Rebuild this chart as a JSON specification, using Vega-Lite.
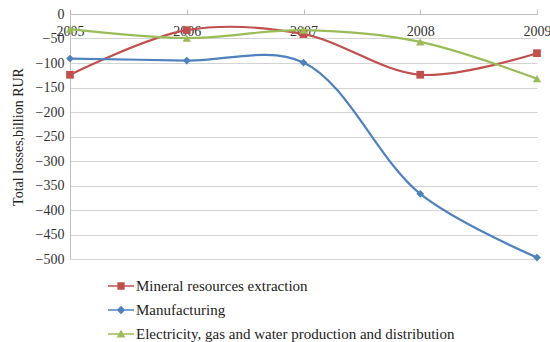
{
  "$schema": "https://vega.github.io/schema/vega-lite/v6.json",
  "width": 467,
  "height": 245,
  "autosize": {"type": "none"},
  "padding": {"left": 70, "top": 14, "right": 13, "bottom": 83},
  "background": "white",
  "config": {
    "view": {"stroke": null},
    "font": "Liberation Serif"
  },
  "data": {
    "values": [
      {"year": "2005", "series": "Mineral resources extraction", "value": -124},
      {"year": "2006", "series": "Mineral resources extraction", "value": -33},
      {"year": "2007", "series": "Mineral resources extraction", "value": -41},
      {"year": "2008", "series": "Mineral resources extraction", "value": -124},
      {"year": "2009", "series": "Mineral resources extraction", "value": -80},
      {"year": "2005", "series": "Manufacturing", "value": -91},
      {"year": "2006", "series": "Manufacturing", "value": -95},
      {"year": "2007", "series": "Manufacturing", "value": -99},
      {"year": "2008", "series": "Manufacturing", "value": -367},
      {"year": "2009", "series": "Manufacturing", "value": -497},
      {"year": "2005", "series": "Electricity, gas and water production and distribution", "value": -31},
      {"year": "2006", "series": "Electricity, gas and water production and distribution", "value": -49},
      {"year": "2007", "series": "Electricity, gas and water production and distribution", "value": -33},
      {"year": "2008", "series": "Electricity, gas and water production and distribution", "value": -57},
      {"year": "2009", "series": "Electricity, gas and water production and distribution", "value": -132}
    ]
  },
  "encoding": {
    "x": {
      "field": "year",
      "type": "ordinal",
      "scale": {"type": "point", "padding": 0},
      "axis": {
        "orient": "top",
        "title": null,
        "labelAngle": 0,
        "labelFont": "Liberation Serif",
        "labelFontSize": 14,
        "labelColor": "#333333",
        "labelPadding": -29,
        "tickSize": 5,
        "tickColor": "#bfbfbf",
        "domainColor": "#bfbfbf",
        "grid": false,
        "labelOverlap": false
      }
    },
    "y": {
      "field": "value",
      "type": "quantitative",
      "scale": {"domain": [-500, 0], "nice": false},
      "axis": {
        "values": [0, -50, -100, -150, -200, -250, -300, -350, -400, -450, -500],
        "title": "Total losses,billion RUR",
        "titleFont": "Liberation Serif",
        "titleFontSize": 14,
        "titleFontWeight": "normal",
        "titleColor": "#222222",
        "titlePadding": 10,
        "labelFont": "Liberation Serif",
        "labelFontSize": 14,
        "labelColor": "#333333",
        "labelPadding": 6,
        "ticks": false,
        "domainColor": "#bfbfbf",
        "gridColor": "#d4d4d4",
        "grid": true
      }
    },
    "color": {
      "field": "series",
      "type": "nominal",
      "scale": {
        "domain": ["Mineral resources extraction", "Manufacturing", "Electricity, gas and water production and distribution"],
        "range": ["#c0504d", "#4f81bd", "#9bbb59"]
      },
      "legend": {
        "orient": "none",
        "legendX": 42,
        "legendY": 263,
        "padding": 0,
        "title": null,
        "direction": "vertical",
        "labelFont": "Liberation Serif",
        "labelFontSize": 15,
        "labelColor": "#222222",
        "labelLimit": 500,
        "symbolSize": 300,
        "rowPadding": 7,
        "labelOffset": 6,
        "encode": {
          "symbols": {
            "update": {
              "shape": {"signal": "datum.value === 'Manufacturing' ? 'M-1.5,-0.1H1.5V0.1H-1.5Z M0,-0.5L0.5,0L0,0.5L-0.5,0Z' : (datum.value === 'Mineral resources extraction' ? 'M-1.5,-0.1H1.5V0.1H-1.5Z M-0.42,-0.42H0.42V0.42H-0.42Z' : 'M-1.5,-0.1H1.5V0.1H-1.5Z M0,-0.5L0.5,0.4L-0.5,0.4Z')"},
              "fill": {"signal": "scale('color', datum.value)"},
              "stroke": {"value": "transparent"},
              "strokeWidth": {"value": 0}
            }
          }
        }
      }
    }
  },
  "layer": [
    {
      "mark": {"type": "line", "interpolate": "catmull-rom", "strokeWidth": 2.2}
    },
    {
      "transform": [{"filter": "datum.series === 'Mineral resources extraction'"}],
      "mark": {"type": "point", "filled": true, "size": 60, "opacity": 1, "shape": "square"}
    },
    {
      "transform": [{"filter": "datum.series === 'Manufacturing'"}],
      "mark": {"type": "point", "filled": true, "size": 60, "opacity": 1, "shape": "diamond"}
    },
    {
      "transform": [{"filter": "datum.series === 'Electricity, gas and water production and distribution'"}],
      "mark": {"type": "point", "filled": true, "size": 70, "opacity": 1, "shape": "triangle-up"}
    }
  ]
}
